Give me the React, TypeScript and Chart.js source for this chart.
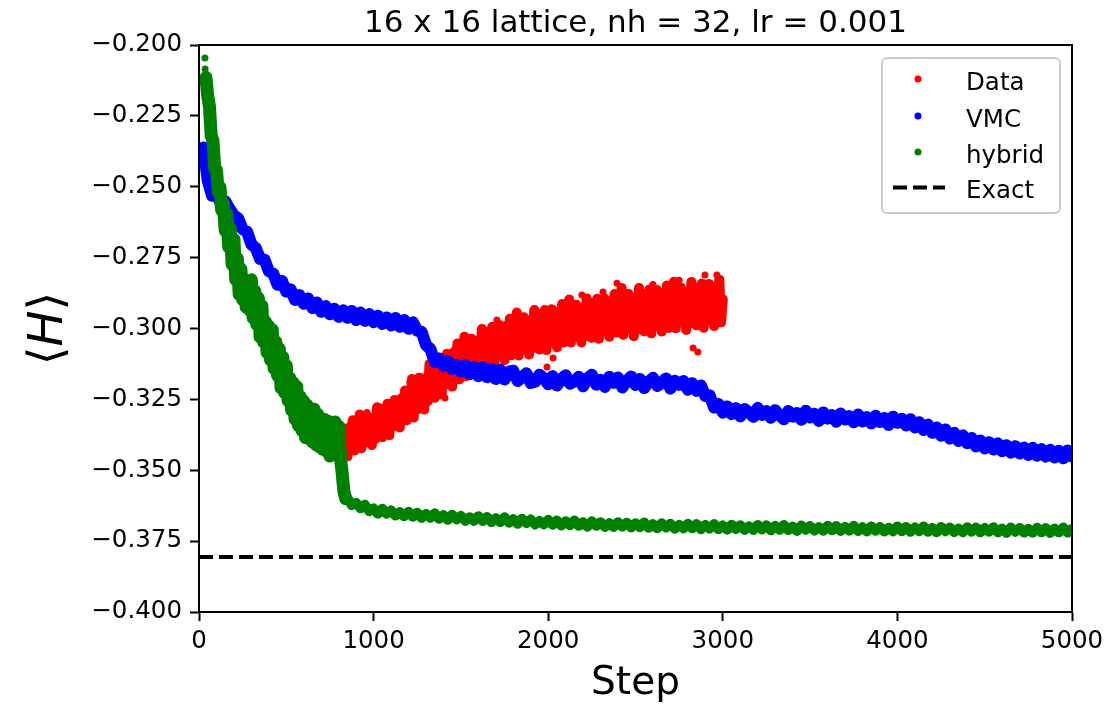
import React, { useEffect, useRef } from "react";
import { Chart, registerables } from "chart.js";

Chart.register(...registerables);

const FONT = '"DejaVu Sans", "Liberation Sans", sans-serif';
const RED = "#ff0000";
const BLUE = "#0000ff";
const GREEN = "#008000";

const TITLE = "16 x 16 lattice, nh = 32, lr = 0.001";
const X_LABEL = "Step";
const LEGEND_LABELS = ["Data", "VMC", "hybrid", "Exact"];
const X_TICKS = [0, 1000, 2000, 3000, 4000, 5000];
const Y_TICKS = [-0.4, -0.375, -0.35, -0.325, -0.3, -0.275, -0.25, -0.225, -0.2];

const EXACT = -0.3806;

// VMC energies, steps 25..5000 every 25
const VMC_START = 25;
const VMC_STRIDE = 25;
const vmcValues = [
  -0.2362, -0.2478, -0.2532, -0.2523, -0.2561, -0.2551, -0.2578, -0.2601, -0.2612, -0.2650,
  -0.2658, -0.2703, -0.2716, -0.2755, -0.2757, -0.2798, -0.2806, -0.2846, -0.2832, -0.2870,
  -0.2862, -0.2899, -0.2882, -0.2913, -0.2894, -0.2928, -0.2908, -0.2941, -0.2921, -0.2950,
  -0.2930, -0.2959, -0.2936, -0.2962, -0.2938, -0.2970, -0.2944, -0.2973, -0.2949, -0.2978,
  -0.2955, -0.2984, -0.2961, -0.2989, -0.2963, -0.2994, -0.2970, -0.3001, -0.2978, -0.3008,
  -0.3012, -0.3058, -0.3072, -0.3118, -0.3106, -0.3131, -0.3115, -0.3144, -0.3128, -0.3152,
  -0.3130, -0.3161, -0.3135, -0.3168, -0.3137, -0.3172, -0.3143, -0.3178, -0.3145, -0.3180,
  -0.3152, -0.3149, -0.3185, -0.3171, -0.3158, -0.3192, -0.3188, -0.3163, -0.3175, -0.3197,
  -0.3168, -0.3201, -0.3179, -0.3165, -0.3195, -0.3187, -0.3170, -0.3204, -0.3176, -0.3163,
  -0.3198, -0.3181, -0.3206, -0.3170, -0.3192, -0.3173, -0.3208, -0.3185, -0.3169, -0.3199,
  -0.3178, -0.3210, -0.3188, -0.3174, -0.3203, -0.3191, -0.3176, -0.3212, -0.3184, -0.3199,
  -0.3185, -0.3216, -0.3193, -0.3220, -0.3201, -0.3238, -0.3236, -0.3279, -0.3266, -0.3297,
  -0.3275, -0.3302, -0.3281, -0.3310, -0.3284, -0.3296, -0.3312, -0.3280, -0.3305, -0.3291,
  -0.3315, -0.3288, -0.3306, -0.3320, -0.3291, -0.3311, -0.3298, -0.3322, -0.3290, -0.3314,
  -0.3301, -0.3326, -0.3296, -0.3318, -0.3305, -0.3329, -0.3300, -0.3321, -0.3309, -0.3331,
  -0.3303, -0.3328, -0.3312, -0.3335, -0.3308, -0.3330, -0.3316, -0.3340, -0.3311, -0.3333,
  -0.3318, -0.3342, -0.3320, -0.3349, -0.3331, -0.3358, -0.3339, -0.3368, -0.3349, -0.3378,
  -0.3356, -0.3388, -0.3368, -0.3397, -0.3377, -0.3405, -0.3386, -0.3416, -0.3395, -0.3423,
  -0.3401, -0.3427, -0.3405, -0.3433, -0.3412, -0.3438, -0.3415, -0.3441, -0.3420, -0.3446,
  -0.3421, -0.3449, -0.3425, -0.3452, -0.3428, -0.3455, -0.3431, -0.3458, -0.3430, -0.3452,
];

// Hybrid energies, early phase: steps 40..840 every 10
const HYB_EARLY_START = 40;
const HYB_EARLY_STRIDE = 10;
const hybridEarlyValues = [
  -0.2115, -0.2180, -0.2218, -0.2321, -0.2338, -0.2436, -0.2441, -0.2518, -0.2502, -0.2583,
  -0.2560, -0.2655, -0.2597, -0.2712, -0.2648, -0.2775, -0.2685, -0.2828, -0.2753, -0.2880,
  -0.2790, -0.2898, -0.2830, -0.2925, -0.2832, -0.2935, -0.2828, -0.2963, -0.2868, -0.2985,
  -0.2893, -0.3030, -0.2920, -0.3047, -0.2975, -0.3085, -0.2992, -0.3112, -0.3005, -0.3141,
  -0.3047, -0.3166, -0.3072, -0.3210, -0.3101, -0.3226, -0.3131, -0.3255, -0.3175, -0.3288,
  -0.3192, -0.3320, -0.3205, -0.3343, -0.3240, -0.3360, -0.3257, -0.3385, -0.3271, -0.3388,
  -0.3283, -0.3400, -0.3285, -0.3410, -0.3303, -0.3418, -0.3330, -0.3426, -0.3321, -0.3433,
  -0.3327, -0.3450, -0.3334, -0.3443, -0.3330, -0.3447, -0.3345, -0.3455, -0.3510, -0.3575,
  -0.3600,
];

// Hybrid energies, late phase: steps 850..5000 every 25
const HYB_LATE_START = 850;
const HYB_LATE_STRIDE = 25;
const hybridLateValues = [
  -0.3598, -0.3623, -0.3615, -0.3634, -0.3622, -0.3644, -0.3635, -0.3653, -0.3636, -0.3653,
  -0.3642, -0.3660, -0.3648, -0.3662, -0.3646, -0.3664, -0.3650, -0.3668, -0.3654, -0.3668,
  -0.3652, -0.3671, -0.3659, -0.3675, -0.3657, -0.3673, -0.3661, -0.3678, -0.3666, -0.3678,
  -0.3662, -0.3679, -0.3665, -0.3683, -0.3669, -0.3683, -0.3666, -0.3685, -0.3673, -0.3689,
  -0.3671, -0.3686, -0.3674, -0.3691, -0.3679, -0.3691, -0.3675, -0.3692, -0.3677, -0.3695,
  -0.3680, -0.3694, -0.3677, -0.3696, -0.3683, -0.3699, -0.3680, -0.3696, -0.3683, -0.3700,
  -0.3687, -0.3700, -0.3683, -0.3699, -0.3685, -0.3702, -0.3687, -0.3701, -0.3684, -0.3703,
  -0.3690, -0.3705, -0.3687, -0.3702, -0.3689, -0.3706, -0.3693, -0.3705, -0.3689, -0.3705,
  -0.3690, -0.3708, -0.3693, -0.3706, -0.3690, -0.3708, -0.3695, -0.3710, -0.3692, -0.3707,
  -0.3694, -0.3710, -0.3698, -0.3710, -0.3693, -0.3709, -0.3694, -0.3712, -0.3697, -0.3710,
  -0.3693, -0.3711, -0.3699, -0.3714, -0.3695, -0.3710, -0.3697, -0.3713, -0.3701, -0.3713,
  -0.3696, -0.3712, -0.3697, -0.3714, -0.3700, -0.3713, -0.3696, -0.3714, -0.3701, -0.3716,
  -0.3698, -0.3713, -0.3700, -0.3716, -0.3703, -0.3715, -0.3698, -0.3715, -0.3700, -0.3717,
  -0.3702, -0.3715, -0.3698, -0.3717, -0.3704, -0.3719, -0.3700, -0.3715, -0.3702, -0.3718,
  -0.3706, -0.3718, -0.3701, -0.3717, -0.3702, -0.3719, -0.3704, -0.3717, -0.3701, -0.3719,
  -0.3706, -0.3721, -0.3702, -0.3717, -0.3704, -0.3720, -0.3707, -0.3720, -0.3703, -0.3719,
  -0.3704, -0.3721, -0.3706, -0.3719, -0.3702, -0.3720, -0.3707,
];

// Data-driven energies: steps 820..3000 every 10
const DATA_START = 820;
const DATA_STRIDE = 10;
const dataValues = [
  -0.3350, -0.3442, -0.3376, -0.3451, -0.3349, -0.3398, -0.3324, -0.3430, -0.3369, -0.3407,
  -0.3303, -0.3422, -0.3336, -0.3402, -0.3309, -0.3364, -0.3315, -0.3411, -0.3324, -0.3390,
  -0.3278, -0.3364, -0.3318, -0.3383, -0.3281, -0.3342, -0.3265, -0.3376, -0.3278, -0.3345,
  -0.3252, -0.3342, -0.3275, -0.3349, -0.3246, -0.3295, -0.3219, -0.3324, -0.3262, -0.3303,
  -0.3178, -0.3314, -0.3213, -0.3286, -0.3174, -0.3236, -0.3176, -0.3286, -0.3179, -0.3256,
  -0.3125, -0.3225, -0.3171, -0.3244, -0.3125, -0.3196, -0.3103, -0.3232, -0.3118, -0.3198,
  -0.3089, -0.3196, -0.3117, -0.3205, -0.3083, -0.3142, -0.3053, -0.3179, -0.3106, -0.3151,
  -0.3029, -0.3168, -0.3069, -0.3145, -0.3036, -0.3101, -0.3043, -0.3157, -0.3052, -0.3131,
  -0.3002, -0.3105, -0.3053, -0.3128, -0.3011, -0.3084, -0.2994, -0.3125, -0.3013, -0.3095,
  -0.2988, -0.3098, -0.3021, -0.3111, -0.2991, -0.3052, -0.2966, -0.3094, -0.3023, -0.3071,
  -0.2944, -0.3095, -0.2991, -0.3074, -0.2960, -0.3029, -0.2971, -0.3092, -0.2985, -0.3070,
  -0.2935, -0.3046, -0.2991, -0.3074, -0.2949, -0.3029, -0.2935, -0.3076, -0.2956, -0.3045,
  -0.2932, -0.3050, -0.2968, -0.3066, -0.2940, -0.3005, -0.2914, -0.3049, -0.2975, -0.3025,
  -0.2898, -0.3049, -0.2946, -0.3030, -0.2916, -0.2986, -0.2928, -0.3049, -0.2943, -0.3028,
  -0.2894, -0.3004, -0.2950, -0.3033, -0.2909, -0.2989, -0.2895, -0.3036, -0.2917, -0.3006,
  -0.2894, -0.3012, -0.2931, -0.3029, -0.2903, -0.2969, -0.2878, -0.3014, -0.2940, -0.2994,
  -0.2857, -0.3022, -0.2910, -0.3001, -0.2878, -0.2956, -0.2893, -0.3027, -0.2910, -0.3004,
  -0.2857, -0.2979, -0.2921, -0.3010, -0.2877, -0.2964, -0.2862, -0.3017, -0.2889, -0.2985,
  -0.2863, -0.2992, -0.2905, -0.3011, -0.2874, -0.2946, -0.2848, -0.2998, -0.2917, -0.2971,
  -0.2835, -0.2999, -0.2887, -0.2979, -0.2856, -0.2934, -0.2870, -0.3005, -0.2888, -0.2982,
  -0.2836, -0.2957, -0.2900, -0.2989, -0.2856, -0.2944, -0.2841, -0.2997, -0.2869, -0.2965,
  -0.2843, -0.2972, -0.2885, -0.2991, -0.2854, -0.2926, -0.2828, -0.2978, -0.2897,
];

// isolated points away from the main bands
const dataOutlierSteps = [962, 1208, 1409, 1706, 1993, 2028, 2193, 2314, 2394, 2600, 2750, 2830, 2857, 2898, 2966];
const dataOutlierValues = [-0.3296, -0.3190, -0.3245, -0.2970, -0.3136, -0.3104, -0.2882, -0.2871, -0.2840, -0.2845, -0.2830, -0.3069, -0.3083, -0.2811, -0.2811];
const hybridOutlierSteps = [34, 35, 300, 310];
const hybridOutlierValues = [-0.2046, -0.2085, -0.2825, -0.2835];

const toPoints = (values: number[], start: number, stride: number) =>
  values.map((y, i) => ({ x: start + i * stride, y }));
const pairPoints = (xs: number[], ys: number[]) => xs.map((x, i) => ({ x, y: ys[i] }));

const fmtY = (v: number) => Number(v).toFixed(3).replace("-", "\u2212");

const overlayPlugin = {
  id: "overlay",
  afterDraw(chart: any) {
    const { ctx, chartArea: a } = chart;
    ctx.save();
    ctx.strokeStyle = "#000";
    ctx.lineWidth = 2;
    ctx.strokeRect(a.left, a.top, a.right - a.left, a.bottom - a.top);

    ctx.fillStyle = "#000";
    ctx.textAlign = "center";
    ctx.textBaseline = "alphabetic";
    ctx.font = `31px ${FONT}`;
    ctx.fillText(TITLE, (a.left + a.right) / 2, 32);

    ctx.font = `39px ${FONT}`;
    ctx.fillText(X_LABEL, (a.left + a.right) / 2, 694);

    ctx.save();
    ctx.translate(45, (a.top + a.bottom) / 2);
    ctx.rotate(-Math.PI / 2);
    ctx.textAlign = "left";
    const fs = 48;
    const normal = `${fs}px ${FONT}`;
    const italic = `italic ${fs}px ${FONT}`;
    ctx.font = normal;
    const wl = ctx.measureText("\u27E8").width;
    const wr = ctx.measureText("\u27E9").width;
    ctx.font = italic;
    const wh = ctx.measureText("H").width;
    let x0 = -(wl + wh + wr) / 2;
    const base = fs * 0.36;
    ctx.font = normal;
    ctx.fillText("\u27E8", x0, base);
    x0 += wl;
    ctx.font = italic;
    ctx.fillText("H", x0, base);
    x0 += wh;
    ctx.font = normal;
    ctx.fillText("\u27E9", x0, base);
    ctx.restore();

    const lx = 882, ly = 58, lw = 178, lh = 155, r = 5;
    ctx.beginPath();
    ctx.moveTo(lx + r, ly);
    ctx.lineTo(lx + lw - r, ly);
    ctx.arcTo(lx + lw, ly, lx + lw, ly + r, r);
    ctx.lineTo(lx + lw, ly + lh - r);
    ctx.arcTo(lx + lw, ly + lh, lx + lw - r, ly + lh, r);
    ctx.lineTo(lx + r, ly + lh);
    ctx.arcTo(lx, ly + lh, lx, ly + lh - r, r);
    ctx.lineTo(lx, ly + r);
    ctx.arcTo(lx, ly, lx + r, ly, r);
    ctx.closePath();
    ctx.fillStyle = "rgba(255,255,255,0.8)";
    ctx.fill();
    ctx.strokeStyle = "#cccccc";
    ctx.lineWidth = 2;
    ctx.stroke();

    const rows = [79, 116, 152, 187.5];
    const colors = [RED, BLUE, GREEN];
    for (let i = 0; i < 3; i++) {
      ctx.beginPath();
      ctx.fillStyle = colors[i];
      ctx.arc(918, rows[i], 3.5, 0, Math.PI * 2);
      ctx.fill();
    }
    ctx.beginPath();
    ctx.strokeStyle = "#000";
    ctx.lineWidth = 4;
    ctx.setLineDash([14, 6]);
    ctx.moveTo(893, rows[3]);
    ctx.lineTo(945, rows[3]);
    ctx.stroke();
    ctx.setLineDash([]);

    ctx.fillStyle = "#000";
    ctx.font = `24.5px ${FONT}`;
    ctx.textAlign = "left";
    ctx.textBaseline = "alphabetic";
    for (let i = 0; i < 4; i++) {
      ctx.fillText(LEGEND_LABELS[i], 966, rows[i] + 10.5);
    }
    ctx.restore();
  },
};

export default function App() {
  const ref = useRef<HTMLCanvasElement | null>(null);

  useEffect(() => {
    if (!ref.current) return;
    const bandStyle = (color: string, order: number, width: number) => ({
      showLine: true,
      borderColor: color,
      backgroundColor: color,
      borderWidth: width,
      borderJoinStyle: "round" as const,
      borderCapStyle: "round" as const,
      pointRadius: 3.5,
      pointBorderWidth: 0,
      pointHoverRadius: 0,
      pointBackgroundColor: color,
      clip: 0,
      order,
    });
    const dotStyle = (color: string, order: number) => ({
      showLine: false,
      backgroundColor: color,
      borderColor: color,
      pointRadius: 3.5,
      pointBorderWidth: 0,
      pointHoverRadius: 0,
      clip: 0,
      order,
    });

    const chart = new Chart(ref.current, {
      type: "scatter",
      data: {
        datasets: [
          { label: "Data", data: toPoints(dataValues, DATA_START, DATA_STRIDE), ...bandStyle(RED, 3, 10) },
          { label: "Data outliers", data: pairPoints(dataOutlierSteps, dataOutlierValues), ...dotStyle(RED, 3) },
          { label: "VMC", data: toPoints(vmcValues, VMC_START, VMC_STRIDE), ...bandStyle(BLUE, 2, 12) },
          { label: "hybrid", data: toPoints(hybridEarlyValues, HYB_EARLY_START, HYB_EARLY_STRIDE), ...bandStyle(GREEN, 1, 13) },
          { label: "hybrid late", data: toPoints(hybridLateValues, HYB_LATE_START, HYB_LATE_STRIDE), ...bandStyle(GREEN, 1, 10) },
          { label: "hybrid outliers", data: pairPoints(hybridOutlierSteps, hybridOutlierValues), ...dotStyle(GREEN, 1) },
          {
            label: "Exact",
            data: [{ x: X_TICKS[0], y: EXACT }, { x: X_TICKS[X_TICKS.length - 1], y: EXACT }],
            showLine: true,
            borderColor: "#000",
            borderWidth: 4,
            borderDash: [14, 6],
            pointRadius: 0,
            pointHoverRadius: 0,
            clip: 0,
            order: 0,
          },
        ],
      },
      options: {
        animation: false,
        responsive: false,
        devicePixelRatio: 1,
        events: [],
        layout: { padding: { top: 45, right: 45, left: 0, bottom: 0 } },
        plugins: {
          legend: { display: false },
          title: { display: false },
          tooltip: { enabled: false },
        },
        scales: {
          x: {
            type: "linear",
            min: X_TICKS[0],
            max: X_TICKS[X_TICKS.length - 1],
            afterFit(s: any) {
              s.height = 92;
            },
            afterBuildTicks(s: any) {
              s.ticks = X_TICKS.map((v) => ({ value: v }));
            },
            ticks: {
              color: "#000",
              font: { family: FONT, size: 24.5 },
              padding: 6,
              maxRotation: 0,
              autoSkip: false,
              callback: (v: any) => String(v),
            },
            grid: { display: true, drawOnChartArea: false, drawTicks: true, tickLength: 9, tickWidth: 2, tickColor: "#000" },
            border: { display: true, color: "#000", width: 2 },
          },
          y: {
            type: "linear",
            min: Y_TICKS[0],
            max: Y_TICKS[Y_TICKS.length - 1],
            afterFit(s: any) {
              s.width = 199;
            },
            afterBuildTicks(s: any) {
              s.ticks = Y_TICKS.map((v) => ({ value: v }));
            },
            ticks: {
              color: "#000",
              font: { family: FONT, size: 24.5 },
              padding: 8,
              autoSkip: false,
              callback: (v: any) => fmtY(v),
            },
            grid: { display: true, drawOnChartArea: false, drawTicks: true, tickLength: 9, tickWidth: 2, tickColor: "#000" },
            border: { display: true, color: "#000", width: 2 },
          },
        },
      },
      plugins: [overlayPlugin],
    });
    return () => chart.destroy();
  }, []);

  return (
    <div style={{ position: "fixed", left: 0, top: 0, width: 1117, height: 704, background: "#fff" }}>
      <canvas ref={ref} width={1117} height={704} style={{ display: "block", width: 1117, height: 704 }} />
    </div>
  );
}
